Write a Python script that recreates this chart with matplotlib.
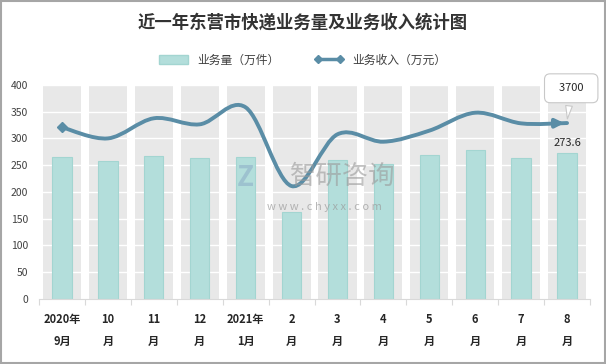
import matplotlib.pyplot as plt
import numpy as np
from matplotlib.path import Path
from matplotlib.patches import PathPatch, Patch, Rectangle
from matplotlib.lines import Line2D

plt.rcParams['font.family'] = ['Noto Sans CJK SC', 'DejaVu Sans']

months = ["2020年\n9月", "10\n月", "11\n月", "12\n月", "2021年\n1月", "2\n月",
          "3\n月", "4\n月", "5\n月", "6\n月", "7\n月", "8\n月"]
volume = [266, 257, 268, 263, 266, 163, 260, 252, 268.6, 278, 263, 273.6]   # 万件
income = [3611, 3377, 3800, 3673, 4030, 2375, 3463, 3307, 3540, 3917, 3693, 3700]  # 万元

bar_color = "#b3dedb"
bar_edge = "#a3d5d1"
line_color = "#5a8da6"
band_color = "#e8e8e8"
text_color = "#404040"

fig = plt.figure(figsize=(6.06, 3.64), dpi=100)
ax = fig.add_axes([0.0644, 0.1786, 0.9092, 0.5879])
x = np.arange(len(months))

# grey background columns
ax.bar(x, [400] * len(x), width=0.83, color=band_color, zorder=1)
for v in range(50, 401, 50):
    ax.axhline(v, color="white", lw=1, zorder=1.5)
ax.bar(x, volume, width=0.42, color=bar_color, edgecolor=bar_edge, lw=0.8, zorder=2)

ax.set_xlim(-0.5, len(x) - 0.5)
ax.set_ylim(0, 400)
ax.set_yticks(range(0, 401, 50))
ax.tick_params(axis="y", length=0, labelsize=7.5, labelcolor=text_color, pad=8)
ax.set_xticks(np.arange(-0.5, len(x), 1), minor=False)
ax.set_xticklabels([])
ax.tick_params(axis="x", which="major", length=4, color="#d9d9d9", direction="out")
ax.set_xticks(x, minor=True)
ax.set_xticklabels(months, minor=True, fontsize=8, fontweight="bold",
                   color="#262626", linespacing=1.9)
ax.tick_params(axis="x", which="minor", length=0, pad=10)
for s in ["left", "right", "top"]:
    ax.spines[s].set_visible(False)
ax.spines["bottom"].set_color("#d9d9d9")

ax.text(11, volume[-1] + 8, "273.6", ha="center", va="bottom", fontsize=8,
        color="#262626", zorder=5)

# income on hidden secondary axis, smoothed line
ax2 = ax.twinx()
ax2.set_ylim(0, 4500)
ax2.axis("off")
pts = np.column_stack([x, income]).astype(float)
ext = np.vstack([pts[0], pts, pts[-1]])
verts = [tuple(pts[0])]
codes = [Path.MOVETO]
for i in range(len(pts) - 1):
    p0, p1, p2, p3 = ext[i], ext[i + 1], ext[i + 2], ext[i + 3]
    c1 = p1 + (p2 - p0) / 6
    c2 = p2 - (p3 - p1) / 6
    verts += [tuple(c1), tuple(c2), tuple(p2)]
    codes += [Path.CURVE4] * 3
ax2.add_patch(PathPatch(Path(verts, codes), fc="none", ec=line_color, lw=2.8,
                        capstyle="round", zorder=3))
ax2.plot(x[0], income[0], marker="D", ms=5, color=line_color, zorder=4)
ax2.annotate("", xy=(x[-1], income[-1]), xytext=(x[-1] - 0.3, income[-1] - 5),
             arrowprops=dict(arrowstyle="-|>,head_length=0.5,head_width=0.25",
                             color=line_color, lw=2.8))
ax2.annotate("  3700  ", xy=(x[-1], income[-1] + 30), xytext=(3, 24),
             textcoords="offset points", ha="center", va="center", fontsize=8,
             color="#262626",
             bbox=dict(boxstyle="round,pad=0.85,rounding_size=0.5", fc="white",
                       ec="#c8c8c8", lw=0.8),
             arrowprops=dict(arrowstyle="wedge,tail_width=0.6,shrink_factor=0.5",
                             fc="white", ec="#c8c8c8", lw=0.8))

# watermark
fig.text(0.565, 0.515, "智研咨询", fontsize=19, color="#9a9a9a", alpha=0.6,
         ha="center", va="center")
fig.text(0.535, 0.43, "w w w . c h y x x . c o m", fontsize=8, color="#9a9a9a",
         alpha=0.7, ha="center", va="center")
fig.text(0.405, 0.51, "Z", fontsize=20, fontweight="bold", color="#8fb0c8",
         alpha=0.6, ha="center", va="center")

fig.text(0.5, 0.937, "近一年东营市快递业务量及业务收入统计图", ha="center",
         va="center", fontsize=12.5, fontweight="bold", color="#333333")

handles = [Patch(fc=bar_color, ec=bar_edge),
           Line2D([], [], color=line_color, lw=2.5, marker="D", ms=4)]
fig.legend(handles, ["业务量（万件）", "业务收入（万元）"], loc="center",
           bbox_to_anchor=(0.5, 0.835), ncol=2, frameon=False, fontsize=8.5,
           handlelength=2.4, columnspacing=3, labelcolor=text_color, numpoints=2)

fig.add_artist(Rectangle((0.001, 0.002), 0.997, 0.995, transform=fig.transFigure,
                         fill=False, ec="#a6a6a6", lw=1.5))

fig.savefig("out.png", dpi=100)
